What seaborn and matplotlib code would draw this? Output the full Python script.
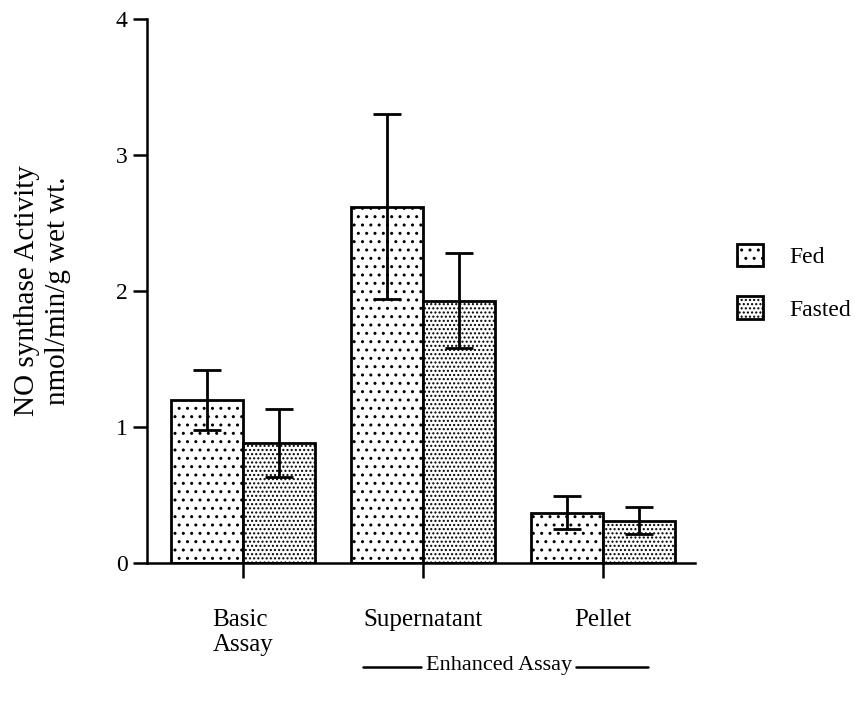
import matplotlib
matplotlib.use("Agg")
import matplotlib.pyplot as plt
import seaborn as sns
import pandas as pd
import numpy as np
from matplotlib.patches import Patch

categories = ["Basic\nAssay", "Supernatant", "Pellet"]
groups = ["Fed", "Fasted"]
fed_values = [1.20, 2.62, 0.37]
fasted_values = [0.88, 1.93, 0.31]
fed_err = [0.22, 0.68, 0.12]
fasted_err = [0.25, 0.35, 0.10]
hatches = {"Fed": "..", "Fasted": "...."}

sns.set_theme(style="ticks")
plt.rcParams["font.family"] = ["Liberation Serif", "DejaVu Serif"]
plt.rcParams["hatch.linewidth"] = 1.0
plt.rcParams["hatch.color"] = "black"
plt.rcParams["text.color"] = "black"
plt.rcParams["axes.labelcolor"] = "black"
plt.rcParams["xtick.color"] = "black"
plt.rcParams["ytick.color"] = "black"

df = pd.DataFrame({
    "cat": categories * 2,
    "group": [groups[0]] * 3 + [groups[1]] * 3,
    "value": fed_values + fasted_values,
})

fig = plt.figure(figsize=(8.55, 7.06), dpi=100)
ax = fig.add_axes([0.172, 0.2025, 0.641, 0.7705])

sns.barplot(data=df, x="cat", y="value", hue="group", order=categories,
            hue_order=groups, errorbar=None, width=0.8, ax=ax,
            palette={"Fed": "white", "Fasted": "white"},
            edgecolor="black", linewidth=2.0, legend=False)

errs = {"Fed": fed_err, "Fasted": fasted_err}
vals = {"Fed": fed_values, "Fasted": fasted_values}
for cont, g in zip(ax.containers, groups):
    xs = []
    for bar in cont:
        bar.set_hatch(hatches[g])
        bar.set_edgecolor("black")
        xs.append(bar.get_x() + bar.get_width() / 2)
    ax.errorbar(xs, vals[g], yerr=errs[g], fmt="none", ecolor="black",
                elinewidth=2.0, capsize=10, capthick=2.0, zorder=5)

ax.set_ylim(0, 4)
ax.set_xlim(-0.533, 2.51)
ax.set_yticks([0, 1, 2, 3, 4])
ax.set_yticklabels(["0", "1", "2", "3", "4"], fontsize=17)
ax.set_xticks([0, 1, 2])
ax.set_xticklabels(categories, fontsize=18, multialignment="left")
ax.tick_params(axis="y", length=10, width=1.8, pad=4, colors="black")
ax.tick_params(axis="x", length=11, width=1.8, pad=22, colors="black")
for lab in ax.get_xticklabels():
    lab.set_va("top")
sns.despine(ax=ax)
for s in ["left", "bottom"]:
    ax.spines[s].set_linewidth(1.8)
    ax.spines[s].set_color("black")

ax.set_xlabel("")
ax.set_ylabel("NO synthase Activity\nnmol/min/g wet wt.", fontsize=21,
              linespacing=1.25, color="black")
ax.yaxis.set_label_coords(-0.138, 0.5)

# Enhanced Assay bracket
tr = ax.get_xaxis_transform()
ax.text(1.42, -0.188, "Enhanced Assay", transform=tr, ha="center",
        va="center", fontsize=16, color="black")
ax.plot([0.667, 0.99], [-0.192, -0.192], transform=tr, color="black",
        lw=1.8, clip_on=False)
ax.plot([1.85, 2.25], [-0.192, -0.192], transform=tr, color="black",
        lw=1.8, clip_on=False)

handles = [Patch(facecolor="white", edgecolor="black", hatch=hatches[g],
                 linewidth=2.0, label=g) for g in groups]
fig.legend(handles=handles, loc="upper left",
           bbox_to_anchor=(0.862, 0.655), frameon=False, fontsize=17,
           handlelength=1.1, handleheight=1.1, labelspacing=1.2,
           handletextpad=1.1, borderpad=0, borderaxespad=0,
           labelcolor="black")

fig.savefig("out.png", dpi=100)
